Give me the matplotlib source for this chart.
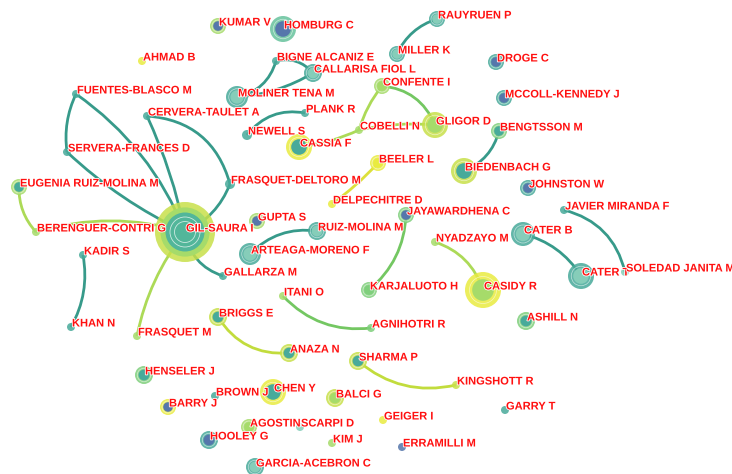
import numpy as np
import matplotlib.pyplot as plt
from matplotlib.path import Path
from matplotlib.patches import PathPatch, Circle
import matplotlib.patheffects as pe

# node layout (pixel coords of the exported network), size and ring colours
names = ["KUMAR V", "HOMBURG C", "AHMAD B", "BIGNE ALCANIZ E", "CALLARISA FIOL L",
         "FUENTES-BLASCO M", "MOLINER TENA M", "CERVERA-TAULET A", "PLANK R", "NEWELL S",
         "CASSIA F", "SERVERA-FRANCES D", "RAUYRUEN P", "MILLER K", "DROGE C",
         "CONFENTE I", "MCCOLL-KENNEDY J", "GLIGOR D", "COBELLI N", "BENGTSSON M",
         "BEELER L", "BIEDENBACH G", "JOHNSTON W", "EUGENIA RUIZ-MOLINA M", "FRASQUET-DELTORO M",
         "DELPECHITRE D", "GIL-SAURA I", "BERENGUER-CONTRI G", "GUPTA S", "RUIZ-MOLINA M",
         "ARTEAGA-MORENO F", "GALLARZA M", "JAYAWARDHENA C", "JAVIER MIRANDA F", "NYADZAYO M",
         "CATER B", "CATER T", "SOLEDAD JANITA M", "KADIR S", "CASIDY R",
         "KARJALUOTO H", "ITANI O", "ASHILL N", "AGNIHOTRI R", "KHAN N",
         "FRASQUET M", "BRIGGS E", "ANAZA N", "SHARMA P", "KINGSHOTT R",
         "HENSELER J", "BROWN J", "CHEN Y", "BALCI G", "BARRY J",
         "AGOSTIN", "SCARPI D", "KIM J", "ERRAMILLI M", "HOOLEY G",
         "GARCIA-ACEBRON C", "GEIGER I", "GARRY T"]
node_x = [218, 283, 142, 276, 313, 76, 237, 147, 305, 247,
          299, 67, 437, 397, 496, 382, 504, 435, 359, 499,
          378, 464, 528, 19, 230, 332, 185, 36, 257, 317,
          250, 223, 406, 564, 435, 523, 581, 625, 83, 483,
          369, 283, 526, 371, 71, 137, 218, 289, 358, 456,
          144, 215, 273, 335, 168, 249, 300, 332, 402, 209,
          255, 383, 505]
node_y = [26, 29, 61, 61, 73, 94, 97, 116, 113, 135,
          147, 152, 19, 54, 62, 86, 98, 125, 130, 131,
          163, 171, 188, 187, 184, 204, 232, 232, 221, 231,
          254, 276, 215, 210, 242, 234, 276, 272, 255, 290,
          290, 296, 321, 328, 327, 336, 317, 353, 361, 385,
          375, 396, 392, 398, 407, 427, 427, 443, 447, 440,
          467, 420, 410]
node_r = [8, 13, 4, 4, 9, 4, 11, 4, 4, 5,
          13, 4, 8, 8, 8, 8, 8, 13, 4, 8,
          8, 13, 8, 8, 5, 4, 30, 4, 8, 9,
          11, 4, 8, 4, 4, 12, 13, 4, 4, 18,
          8, 4, 9, 4, 4, 4, 9, 9, 9, 4,
          9, 4, 13, 9, 8, 8, 4, 4, 4, 9,
          9, 4, 4]
node_outer = ["lg", "gt", "ye", "te", "te", "te", "te", "te", "te", "te",
              "ye", "te", "te", "te", "te", "lg", "te", "yg", "lg", "gr",
              "ye", "yg", "te", "lg", "te", "ye", "yg", "lg", "lg", "te",
              "te", "te", "gr", "te", "lg", "te", "te", "lt", "te", "ye",
              "gr", "lg", "gr", "gr", "te", "lg", "yg", "yg", "yg", "yg",
              "gr", "te", "ye", "yg", "ye", "lg", "lt", "lg", "bl", "te",
              "te", "ye", "te"]
node_inner = ["bl", "bl", "ye", "te", "lt", "te", "lt", "te", "te", "bl",
              "te", "te", "lt", "lt", "bl", "lg", "bl", "lg", "lg", "te",
              "ye", "te", "bl", "te", "te", "ye", "te", "lg", "bl", "lt",
              "lt", "te", "bl", "te", "lg", "lt", "lt", "lt", "te", "lg",
              "gr", "lg", "te", "gr", "te", "lg", "te", "te", "te", "yg",
              "te", "te", "te", "lg", "bl", "lg", "lt", "lg", "bl", "bl",
              "lt", "ye", "te"]

# co-authorship links: (from, to, bend, colour)
edge_a = ["MILLER K", "MOLINER TENA M", "BIGNE ALCANIZ E", "MOLINER TENA M", "NEWELL S",
          "COBELLI N", "CONFENTE I", "COBELLI N", "CASSIA F", "BIEDENBACH G",
          "DELPECHITRE D", "SERVERA-FRANCES D", "FUENTES-BLASCO M", "CERVERA-TAULET A",
          "CERVERA-TAULET A", "GIL-SAURA I", "SERVERA-FRANCES D", "BERENGUER-CONTRI G",
          "BERENGUER-CONTRI G", "GIL-SAURA I", "FRASQUET M", "ARTEAGA-MORENO F",
          "KARJALUOTO H", "NYADZAYO M", "CATER B", "JAVIER MIRANDA F", "KHAN N",
          "ITANI O", "BRIGGS E", "SHARMA P"]
edge_b = ["RAUYRUEN P", "BIGNE ALCANIZ E", "CALLARISA FIOL L", "CALLARISA FIOL L", "PLANK R",
          "CONFENTE I", "GLIGOR D", "GLIGOR D", "COBELLI N", "BENGTSSON M",
          "BEELER L", "FUENTES-BLASCO M", "GIL-SAURA I", "GIL-SAURA I",
          "FRASQUET-DELTORO M", "FRASQUET-DELTORO M", "GIL-SAURA I", "EUGENIA RUIZ-MOLINA M",
          "GIL-SAURA I", "GALLARZA M", "GIL-SAURA I", "RUIZ-MOLINA M",
          "JAYAWARDHENA C", "CASIDY R", "CATER T", "SOLEDAD JANITA M", "KADIR S",
          "AGNIHOTRI R", "ANAZA N", "KINGSHOTT R"]
edge_bend = [0.22, -0.3, 0.3, -0.12, 0.3, 0.1, 0.3, 0.08, -0.08, -0.25,
             -0.05, 0.15, 0.15, 0.06, 0.35, -0.2, -0.08, 0.2, 0.15, -0.3,
             0.12, 0.25, -0.22, 0.25, 0.2, 0.3, -0.18, -0.25, -0.3, -0.25]
edge_col = ["te", "te", "te", "te", "te", "lg", "gr", "lg", "lg", "te",
            "ye", "te", "te", "te", "te", "te", "te", "lg", "lg", "te",
            "lg", "te", "gr", "lg", "te", "te", "te", "gr", "yg", "yg"]

ring = {"te": "#48aa9a", "lt": "#86cdb9", "gt": "#66c29c", "gr": "#7fcf7c",
        "lg": "#a6db6a", "yg": "#c8e04a", "ye": "#e9eb40", "bl": "#5677ab"}
line = {"te": "#2c9584", "gr": "#6cc45a", "lg": "#a8d84e", "yg": "#bfdb32", "ye": "#dcdf30"}

fig = plt.figure(figsize=(7.32, 4.74), dpi=100)
ax = fig.add_axes([0, 0, 1, 1])
ax.set_xlim(0, 732)
ax.set_ylim(474, 0)
ax.axis("off")

pos = {n: (x, y) for n, x, y in zip(names, node_x, node_y)}

for a, b, f, c in zip(edge_a, edge_b, edge_bend, edge_col):
    (x0, y0), (x1, y1) = pos[a], pos[b]
    dx, dy = x1 - x0, y1 - y0
    cx = (x0 + x1) / 2 + f * dy
    cy = (y0 + y1) / 2 - f * dx
    p = Path([(x0, y0), (cx, cy), (x1, y1)], [Path.MOVETO, Path.CURVE3, Path.CURVE3])
    ax.add_patch(PathPatch(p, fc="none", ec=line[c], lw=2.0, alpha=0.95, zorder=1))

for n, x, y, r, o, i in zip(names, node_x, node_y, node_r, node_outer, node_inner):
    ax.add_patch(Circle((x, y), r, fc=ring[o], ec="none", alpha=0.85, zorder=2))
    if n == "GIL-SAURA I":
        ax.add_patch(Circle((x, y), r * 0.82, fc=ring["lg"], ec="none", zorder=3))
        ax.add_patch(Circle((x, y), r * 0.65, fc="#52b69a", ec="none", zorder=3))
        for k in (0.5, 0.35):
            ax.add_patch(Circle((x, y), r * k, fc="none", ec="white", lw=0.6, alpha=0.7, zorder=3))
    elif r >= 8:
        ax.add_patch(Circle((x, y), r * 0.6, fc=ring[i], ec="none", zorder=3))
        ax.add_patch(Circle((x, y), r * 0.75, fc="none", ec="white", lw=0.5, alpha=0.6, zorder=3))
        if i == "bl":
            ax.add_patch(Circle((x, y), r * 0.25, fc=ring["bl"], ec="none", zorder=3))

for n, x, y in zip(names, node_x, node_y):
    ax.text(x + 1, y - 3.5, n, color="#ff1010", fontsize=8, fontweight="bold",
            family="Liberation Sans", ha="left", va="center", zorder=5,
            path_effects=[pe.withStroke(linewidth=1.2, foreground="white")])

fig.savefig("out.png", dpi=100, facecolor="white")
